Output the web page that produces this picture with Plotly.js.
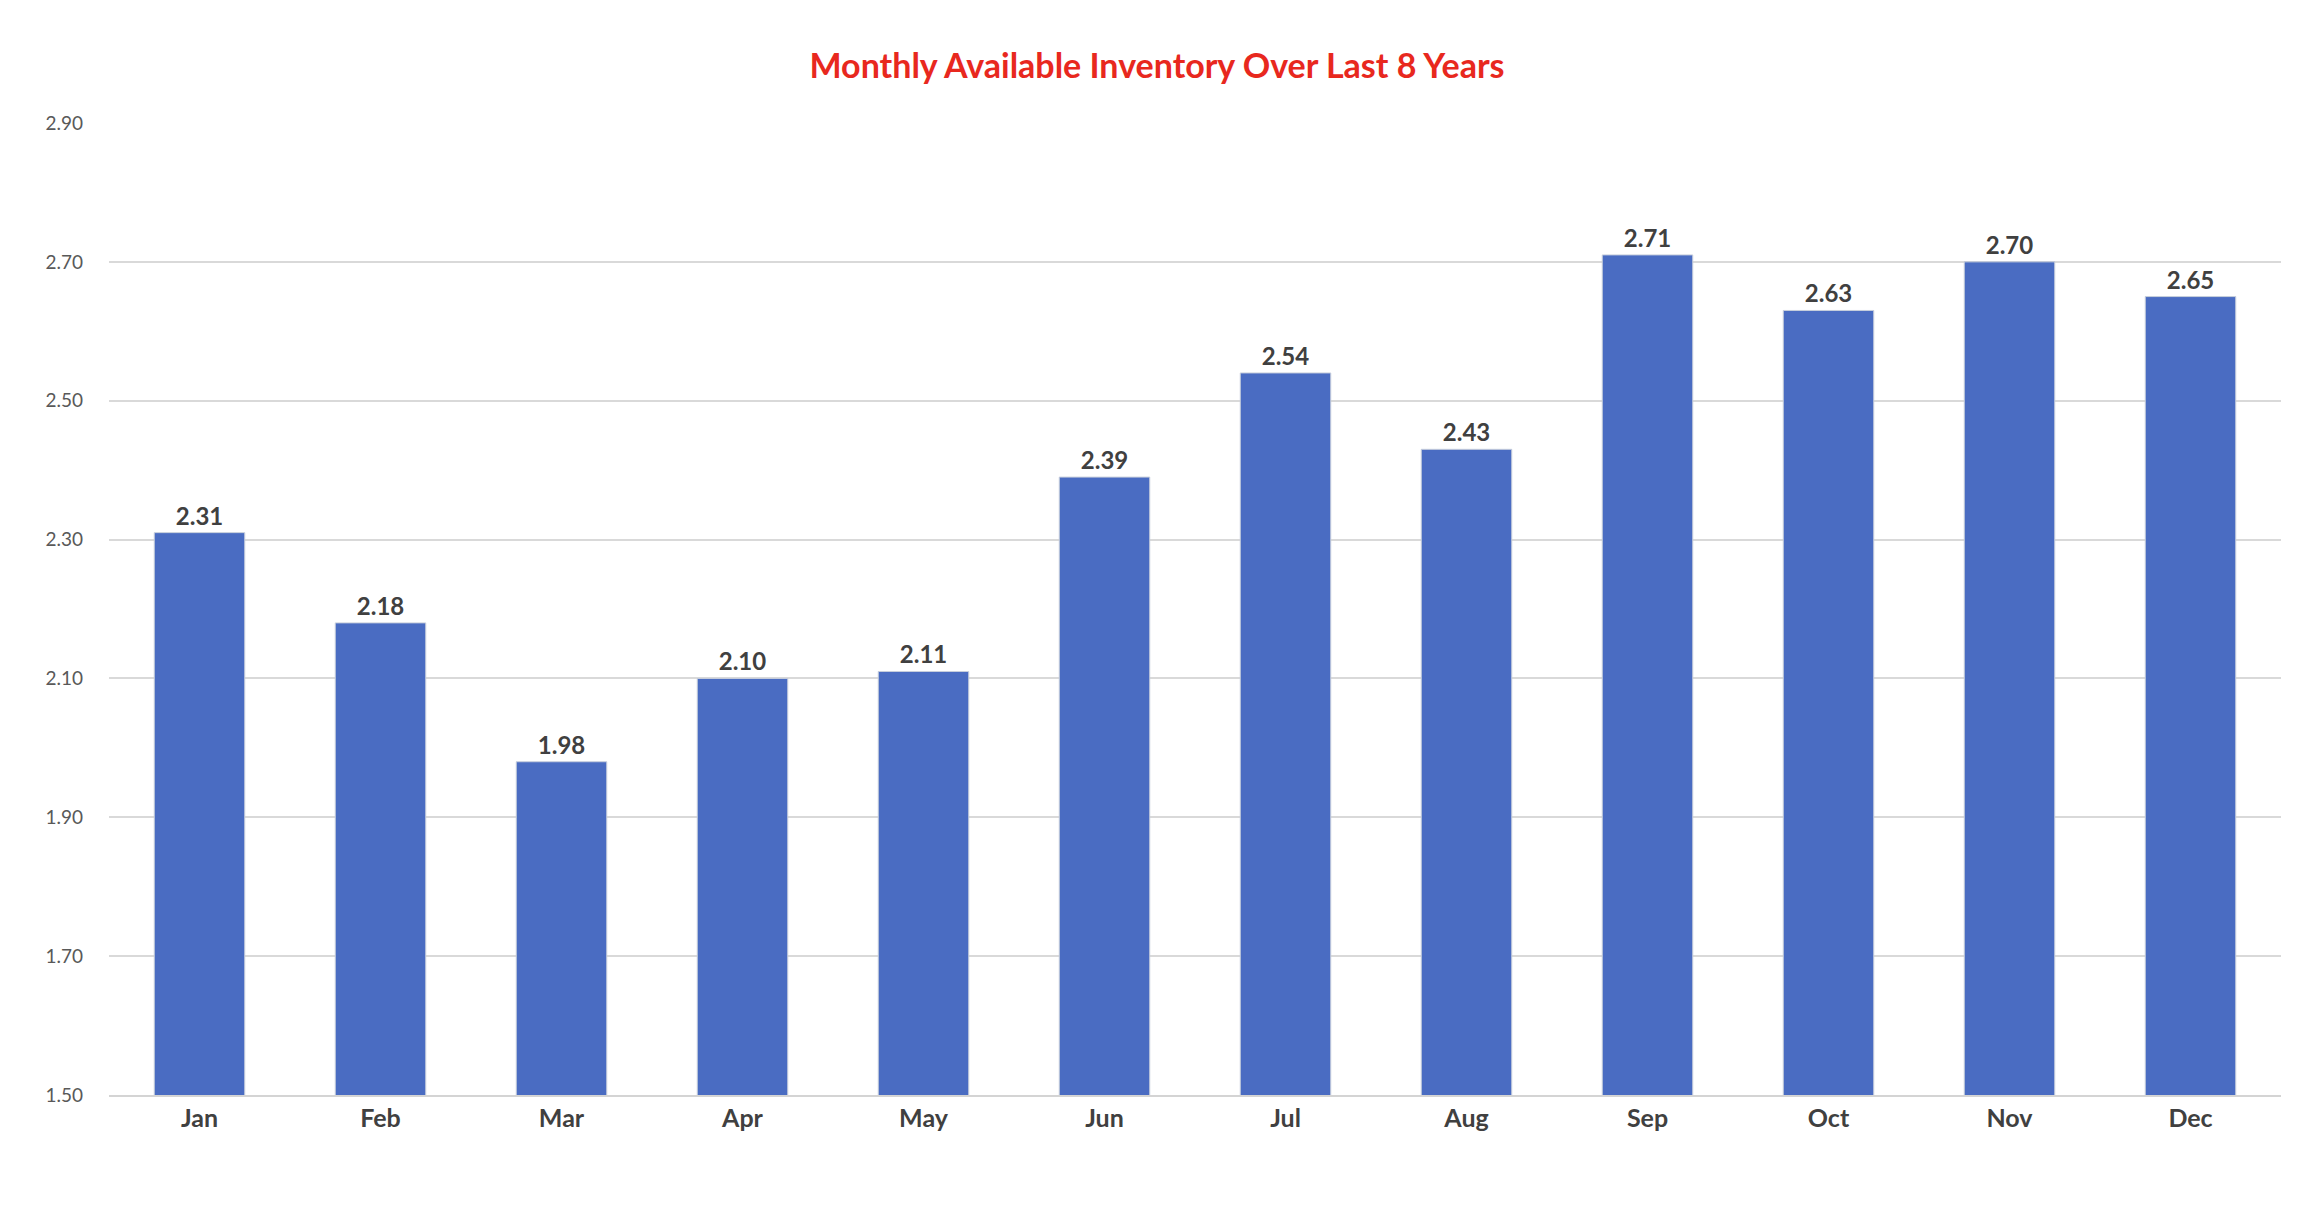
<!DOCTYPE html>
<html>
<head>
<meta charset="utf-8">
<script src="https://cdn.plot.ly/plotly-3.0.1.min.js"></script>
<style>html,body{margin:0;padding:0;background:#fff}#chart{width:2314px;height:1205px}</style>
</head>
<body>
<div id="chart"></div>
<script>
// mois et valeurs
const months = ['Jan','Feb','Mar','Apr','May','Jun','Jul','Aug','Sep','Oct','Nov','Dec'];
const inventory = [2.31, 2.18, 1.98, 2.10, 2.11, 2.39, 2.54, 2.43, 2.71, 2.63, 2.70, 2.65];
const yTicks = [1.5, 1.7, 1.9, 2.1, 2.3, 2.5, 2.7, 2.9];

const fontFam = 'Lato, "Open Sans", sans-serif';

let data = [{
    type: 'bar',
    x: months,
    y: inventory,
    width: 0.5,
    marker: { color: '#4a6cc2', line: { color: '#c8cfdc', width: 1 } },
    text: inventory.map(v => v.toFixed(2)),
    textposition: 'outside',
    cliponaxis: false,
    textfont: { family: fontFam, size: 24, color: '#404040', weight: 'bold' },
    hoverinfo: 'x+y'
}];

let layout = {
    width: 2314, height: 1205,
    paper_bgcolor: '#fff', plot_bgcolor: '#fff',
    margin: { l: 109, r: 33, t: 123, b: 110 },
    title: {
        text: '<b>Monthly Available Inventory Over Last 8 Years</b>',
        font: { family: fontFam, size: 34, color: '#e8281e' },
        x: 0.5, xanchor: 'center', y: 0.945, yanchor: 'middle'
    },
    showlegend: false,
    xaxis: {
        tickfont: { family: fontFam, size: 25, color: '#404040', weight: 'bold' },
        showline: true, linecolor: '#d4d4d4', linewidth: 2,
        ticks: '', ticklen: 0
    },
    yaxis: {
        range: [1.5, 2.9],
        tickvals: yTicks,
        ticktext: yTicks.map(v => v.toFixed(2)),
        tickfont: { family: fontFam, size: 19, color: '#595959' },
        gridcolor: '#d9d9d9', gridwidth: 2,
        zeroline: false, showline: false,
        ticklabelstandoff: 25
    },
    bargap: 0.5
};

Plotly.newPlot('chart', data, layout, { displayModeBar: false });
</script>
</body>
</html>
